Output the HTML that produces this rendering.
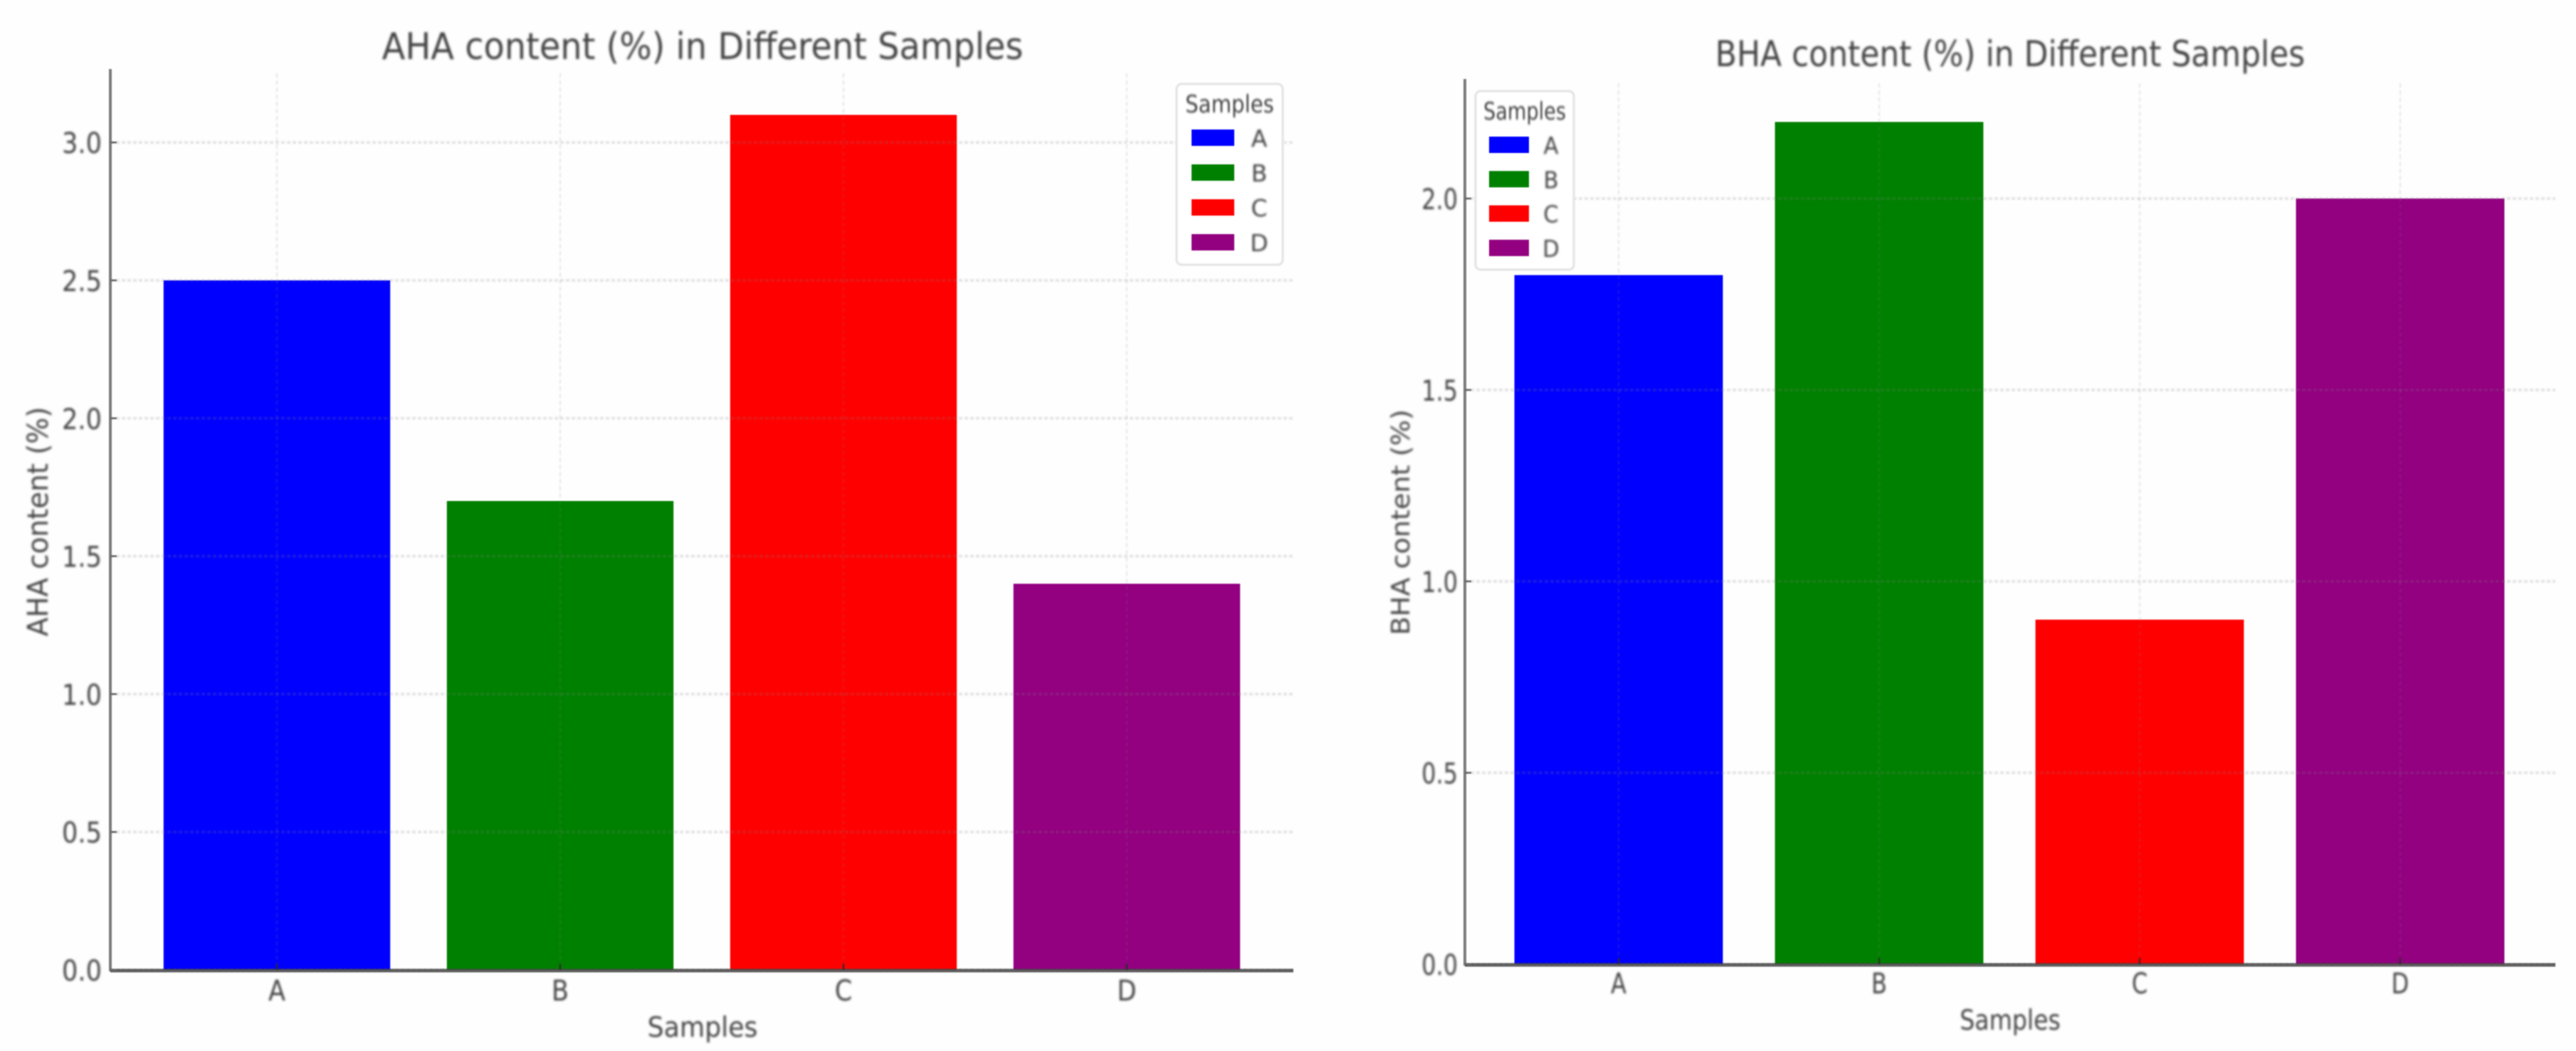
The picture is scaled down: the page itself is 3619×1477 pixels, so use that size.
<!DOCTYPE html>
<html lang="en">
<head>
<meta charset="utf-8">
<title>AHA and BHA content in different samples</title>
<style>
html,body{margin:0;padding:0;background:#fff;width:3619px;height:1477px;overflow:hidden}
svg{display:block}
text{font-family:"DejaVu Sans","Liberation Sans",sans-serif;fill:#424242}
</style>
</head>
<body>
<svg id="figure" xmlns="http://www.w3.org/2000/svg" width="3619" height="1477" viewBox="0 0 3619 1477">
  <defs>
    <filter id="soft" x="-5%" y="-5%" width="110%" height="110%"><feGaussianBlur stdDeviation="0.9"/></filter>
    <filter id="softGrid" x="-5%" y="-5%" width="110%" height="110%"><feGaussianBlur stdDeviation="1.1"/></filter>
    <filter id="softText" x="-20%" y="-50%" width="140%" height="200%"><feGaussianBlur stdDeviation="1.6"/></filter>
  </defs>
  <rect x="0" y="0" width="3619" height="1477" fill="#fefefe"/>
</svg>
<script>
const categories = ['A', 'B', 'C', 'D'];
const ahaValues = [2.5, 1.7, 3.1, 1.4];
const bhaValues = [1.8, 2.2, 0.9, 2.0];
const ahaTicks = ['0.0', '0.5', '1.0', '1.5', '2.0', '2.5', '3.0'];
const bhaTicks = ['0.0', '0.5', '1.0', '1.5', '2.0'];
const barColors = ['#0000ff', '#008000', '#ff0000', '#930080'];

const NS = 'http://www.w3.org/2000/svg';
const figure = document.getElementById('figure');

function make(parent, tag, attrs) {
  const node = document.createElementNS(NS, tag);
  for (const key in attrs) node.setAttribute(key, attrs[key]);
  parent.appendChild(node);
  return node;
}

function label(parent, x, y, str, size, sx, anchor, rotate) {
  const node = make(parent, 'text', {
    'font-size': size,
    'text-anchor': anchor,
    transform: 'translate(' + x + ' ' + y + ')' + (rotate ? ' rotate(-90)' : '') + ' scale(' + sx + ' 1)'
  });
  node.textContent = str;
  return node;
}

function drawPanel(p) {
  const xScale = function (i) { return p.x0 + p.step * i; };
  const yScale = function (v) { return p.y0 - p.unit * v; };

  const panel = make(figure, 'g', {});
  
  

  const bars = make(panel, 'g', { filter: 'url(#soft)' });
  
  
  p.values.forEach(function (v, i) {
    const w = p.step * 0.8;
    const bar = make(bars, 'rect', {
      x: xScale(i) - w / 2,
      y: yScale(v),
      width: w,
      height: yScale(0) - yScale(v),
      fill: barColors[i % barColors.length]
    });
    
    
  });

  const grid = make(panel, 'g', { filter: 'url(#softGrid)' });
  
  
  p.ticks.forEach(function (t) {
    const y = yScale(parseFloat(t));
    const line = make(grid, 'line', {
      x1: p.left, x2: p.right, y1: y, y2: y,
      stroke: 'rgba(130,130,130,0.2)', 'stroke-width': 4, 'stroke-dasharray': '5 3'
    });
    
    
  });
  categories.forEach(function (c, i) {
    const line = make(grid, 'line', {
      x1: xScale(i), x2: xScale(i), y1: p.top + 6, y2: yScale(0),
      stroke: 'rgba(130,130,130,0.16)', 'stroke-width': 2.5, 'stroke-dasharray': '6 4'
    });
    
    
  });

  const axes = make(panel, 'g', { filter: 'url(#soft)' });
  
  
  const spineLeft = make(axes, 'line', {
    x1: p.left, x2: p.left, y1: p.top, y2: yScale(0) + 2,
    stroke: '#7c7c7c', 'stroke-width': 4
  });
  
  
  const spineBottom = make(axes, 'line', {
    x1: p.left, x2: p.right, y1: yScale(0) + 1, y2: yScale(0) + 1,
    stroke: 'rgba(60,60,60,0.8)', 'stroke-width': 5
  });
  
  

  p.ticks.forEach(function (t) {
    const y = yScale(parseFloat(t));
    const mark = make(axes, 'line', {
      x1: p.left, x2: p.left + 9, y1: y, y2: y, stroke: '#666', 'stroke-width': 2.5
    });
    
    
  });
  categories.forEach(function (c, i) {
    const mark = make(axes, 'line', {
      x1: xScale(i), x2: xScale(i), y1: yScale(0) - 9, y2: yScale(0), stroke: 'rgba(40,40,40,0.8)', 'stroke-width': 2.5
    });
    
    
  });

  const texts = make(panel, 'g', { filter: 'url(#softText)' });
  
  

  p.ticks.forEach(function (t) {
    const node = label(texts, p.tickRight, yScale(parseFloat(t)) + 15, t, 40, p.tickSx, 'end', false);
    
    
  });
  categories.forEach(function (c, i) {
    const node = label(texts, xScale(i), p.catBase, c, 40, p.tickSx, 'middle', false);
    
    
  });

  const title = label(texts, p.titleX, p.titleY, p.title, p.titleSize, p.titleSx, 'middle', false);
  
  
  const xTitle = label(texts, p.titleX, p.xTitleY, 'Samples', 39, p.xTitleSx, 'middle', false);
  
  
  const yTitle = label(texts, p.yTitleX, p.yTitleY, p.yTitle, p.yTitleSize, p.yTitleSx, 'middle', true);
  
  

  const legend = make(panel, 'g', {});
  
  
  const frame = make(legend, 'rect', {
    x: p.lgX, y: p.lgY, width: p.lgW, height: p.lgH, rx: 7,
    fill: '#ffffff', stroke: '#e6e6e6', 'stroke-width': 3.5, filter: 'url(#soft)'
  });
  
  
  const legendTitle = label(legend, p.lgX + p.lgW / 2, p.lgTitleY, 'Samples', 34, p.lgTitleSx, 'middle', false);
  legendTitle.setAttribute('filter', 'url(#softText)');
  
  
  categories.forEach(function (c, i) {
    const y = p.lgRowY + p.lgRowStep * i;
    const swatch = make(legend, 'rect', {
      x: p.lgSwX, y: y, width: p.lgSwW, height: 23,
      fill: barColors[i % barColors.length], filter: 'url(#soft)'
    });
    
    
    const txt = label(legend, p.lgTxtX, y + 24, c, 33, p.lgSx, 'middle', false);
    txt.setAttribute('filter', 'url(#softText)');
    
    
  });
}

drawPanel({
  id: 'aha', values: ahaValues, ticks: ahaTicks,
  x0: 389, step: 398, y0: 1363, unit: 387.6,
  left: 155, right: 1817, top: 97,
  tickRight: 143, tickSx: 0.88, catBase: 1406,
  title: 'AHA content (%) in Different Samples', titleX: 987, titleY: 83, titleSize: 52, titleSx: 0.92,
  xTitleY: 1457, xTitleSx: 0.93,
  yTitle: 'AHA content (%)', yTitleX: 67, yTitleY: 733, yTitleSize: 40, yTitleSx: 0.97,
  lgX: 1653, lgY: 118, lgW: 149, lgH: 254, lgTitleY: 158, lgTitleSx: 0.86, lgSx: 1,
  lgRowY: 182, lgRowStep: 49, lgSwX: 1674, lgSwW: 60, lgTxtX: 1769
});

drawPanel({
  id: 'bha', values: bhaValues, ticks: bhaTicks,
  x0: 2274, step: 366, y0: 1355, unit: 538,
  left: 2058, right: 3590, top: 111,
  tickRight: 2048, tickSx: 0.8, catBase: 1396,
  title: 'BHA content (%) in Different Samples', titleX: 2824, titleY: 93, titleSize: 50, titleSx: 0.88,
  xTitleY: 1447, xTitleSx: 0.85,
  yTitle: 'BHA content (%)', yTitleX: 1980, yTitleY: 734, yTitleSize: 36, yTitleSx: 1.06,
  lgX: 2073, lgY: 128, lgW: 138, lgH: 251, lgTitleY: 168, lgTitleSx: 0.8, lgSx: 0.93,
  lgRowY: 192, lgRowStep: 48.3, lgSwX: 2092, lgSwW: 56, lgTxtX: 2179
});
</script>
</body>
</html>
